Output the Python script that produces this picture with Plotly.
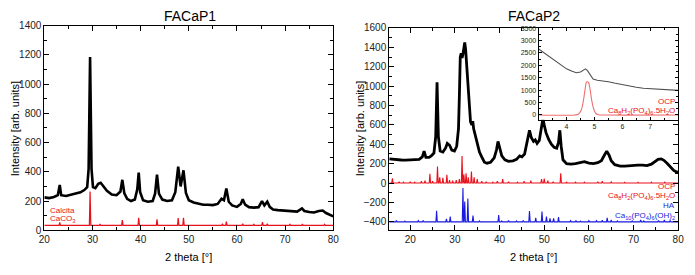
import plotly.graph_objects as go

# ---------------- data ----------------
# FACaP1 measured pattern (2 theta, intensity)
p1_theta = [20.0, 21.0, 22.0, 22.8, 23.2, 23.5, 24.5, 25.5, 26.5, 27.5, 28.3, 28.9, 29.2, 29.5, 29.8, 30.1,
            30.6, 31.2, 31.7, 32.3, 33.0, 34.0, 35.0, 35.8, 36.2, 36.6, 37.2, 38.0, 38.8, 39.3, 39.6, 39.9,
            40.5, 41.5, 42.5, 43.0, 43.4, 43.8, 44.5, 45.5, 46.5, 47.2, 47.8, 48.3, 48.9, 49.4, 50.0, 51.0,
            52.0, 53.0, 54.0, 55.0, 56.0, 56.8, 57.3, 57.8, 58.3, 59.0, 60.0, 60.8, 61.2, 61.7, 62.5, 63.5,
            64.5, 65.2, 65.7, 66.3, 66.8, 67.5, 68.5, 69.5, 70.5, 71.5, 72.5, 73.5, 74.0, 75.0, 76.0, 77.0,
            77.8, 78.5, 79.3, 80.0]
p1_int = [225, 220, 228, 240, 310, 240, 235, 245, 250, 260, 275, 295, 420, 1185, 420, 295,
          288, 318, 325, 300, 270, 245, 240, 265, 345, 255, 215, 200, 210, 280, 395, 260,
          205, 195, 200, 250, 380, 250, 210, 200, 205, 260, 435, 300, 410, 255, 205, 190,
          180, 175, 175, 172, 180, 215, 205, 285, 195, 170, 160, 180, 212, 175, 158, 155,
          158, 200, 170, 195, 160, 142, 138, 135, 132, 130, 128, 150, 132, 125, 122, 132,
          135, 118, 105, 95]

# Calcite CaCO3 reference peaks (position, height above baseline)
calcite_pos = [23.2, 29.5, 31.6, 36.2, 39.6, 43.4, 47.8, 48.9, 57.0, 57.8, 61.2, 63.5, 65.3, 66.3,
               69.8, 71.0, 73.6, 77.0, 78.2]
calcite_h = [20, 232, 9, 37, 52, 42, 50, 52, 12, 27, 12, 7, 22, 12, 5, 7, 9, 5, 7]
calcite_base = 33

# FACaP2 measured pattern
p2_theta = [15.3, 16.0, 17.0, 18.0, 19.0, 20.0, 21.0, 22.0, 22.7, 23.1, 23.5, 24.2, 24.7, 25.3, 25.7,
            26.0, 26.3, 26.7, 27.3, 27.9, 28.3, 28.8, 29.3, 29.9, 30.4, 30.8, 31.0, 31.2, 31.4, 31.6,
            31.8, 32.0, 32.2, 32.4, 32.6, 32.9, 33.2, 33.5, 33.8, 34.0, 34.2, 34.6, 35.0, 35.5, 36.0,
            36.6, 37.2, 38.0, 38.8, 39.3, 39.65, 40.0, 40.5, 41.2, 42.0, 43.0, 43.8, 44.5, 45.0, 45.6,
            46.2, 46.7, 47.1, 47.6, 48.0, 48.4, 48.9, 49.3, 49.7, 50.0, 50.4, 51.0, 51.6, 52.2, 52.8,
            53.2, 53.5, 53.8, 54.2, 55.0, 56.0, 57.0, 58.0, 59.0, 60.0, 61.0, 62.0, 62.8, 63.5, 64.0,
            64.5, 65.0, 65.8, 67.0, 68.0, 69.0, 70.0, 71.0, 72.0, 73.0, 74.0, 74.8, 75.5, 76.2, 76.8,
            77.5, 78.3, 79.0, 79.6, 80.0]
p2_int = [250, 245, 240, 238, 236, 240, 238, 245, 270, 330, 265, 265, 280, 310, 480,
          1040, 480, 330, 320, 360, 410, 390, 340, 330, 380, 560, 900, 1300, 1340, 1290,
          1330, 1400, 1450, 1380, 1250, 1000, 780, 630, 600, 640, 560, 480, 400, 320, 270,
          215, 205, 215, 260, 340, 430, 360, 280, 240, 225, 230, 245, 280, 270, 300,
          430, 545, 470, 430, 445, 410, 440, 560, 665, 600, 520, 450, 400, 370, 360,
          420, 545, 380, 240, 200, 195, 200, 210, 220, 205, 200, 210, 230, 290, 330,
          290, 230, 190, 175, 175, 180, 180, 185, 185, 180, 195, 225, 245, 250, 235,
          205, 160, 130, 115, 112]

# OCP Ca8H2(PO4)6.5H2O reference peaks
ocp_pos = [16.0, 17.5, 18.5, 20.0, 21.0, 22.5, 23.3, 24.4, 25.0, 26.1, 26.6, 27.3, 28.2, 28.8, 29.5,
           30.3, 31.0, 31.6, 32.0, 32.5, 33.0, 33.7, 34.3, 35.0, 36.0, 37.0, 38.5, 39.5, 40.7, 42.0,
           44.0, 45.5, 47.0, 49.4, 50.0, 50.8, 52.0, 53.7, 55.0, 57.0, 59.0, 62.0, 63.0, 65.0, 68.0,
           71.0, 74.0, 77.0]
ocp_h = [50, 15, 10, 15, 10, 20, 25, 95, 20, 170, 60, 55, 85, 30, 25,
         30, 40, 280, 90, 100, 60, 120, 60, 40, 20, 15, 10, 20, 40, 15,
         10, 20, 25, 40, 45, 25, 15, 100, 10, 10, 10, 15, 20, 12, 8,
         8, 10, 10]
ocp_base = 0

# HA Ca10(PO4)6(OH)2 reference peaks
ha_pos = [16.9, 18.8, 21.8, 22.9, 25.9, 28.1, 28.95, 31.8, 32.2, 32.9, 34.05, 35.5, 39.8, 40.5,
          42.0, 43.8, 45.3, 46.7, 48.1, 49.5, 50.5, 51.3, 52.1, 53.2, 55.9, 57.1, 58.1, 60.0,
          61.7, 63.0, 64.1, 65.0, 66.4, 69.7, 71.6, 72.3, 75.6, 76.9, 78.2]
ha_h = [15, 8, 12, 15, 115, 30, 55, 350, 210, 240, 65, 10, 70, 10,
        15, 10, 15, 112, 40, 105, 55, 35, 35, 50, 12, 15, 8, 12,
        12, 18, 40, 20, 10, 10, 20, 10, 15, 20, 15]
ha_base = -400

# Inset (FACaP2 low-angle region)
inset_x = [3.0, 3.2, 3.4, 3.6, 3.8, 4.0, 4.2, 4.35, 4.5, 4.6, 4.68, 4.75, 4.85, 4.95, 5.1, 5.3,
           5.5, 5.75, 6.0, 6.25, 6.5, 6.75, 7.0, 7.25, 7.5, 7.75, 8.0]
inset_int = [2660, 2500, 2330, 2150, 1990, 1860, 1760, 1700, 1730, 1820, 1860, 1790, 1600, 1450,
             1400, 1380, 1340, 1280, 1220, 1170, 1120, 1080, 1060, 1040, 1020, 1000, 990]
inset_ocp_x = [3.0, 4.3, 4.42, 4.52, 4.6, 4.66, 4.72, 4.78, 4.84, 4.9, 4.97, 5.05, 5.15, 5.3, 8.0]
inset_ocp_int = [0, 0, 30, 180, 550, 1000, 1330, 1320, 1050, 600, 250, 60, 10, 0, 0]

# ---------------- helpers ----------------
def stick_pattern(pos, h, base, lo, hi, w=0.15):
    xs, ys = [lo], [base]
    for p, v in zip(pos, h):
        xs += [p - w, p, p + w]
        ys += [base, base + v, base]
    xs.append(hi)
    ys.append(base)
    return xs, ys


BLACK = "#000000"
RED = "#e8101a"
BLUE = "#1a1ae0"
FONT = "Liberation Sans, Arial, sans-serif"

fig = go.Figure()

# left panel
fig.add_trace(go.Scatter(x=p1_theta, y=p1_int, mode="lines",
                         line=dict(color=BLACK, width=2.6), xaxis="x", yaxis="y", showlegend=False))
cx, cy = stick_pattern(calcite_pos, calcite_h, calcite_base, 20, 80)
fig.add_trace(go.Scatter(x=cx, y=cy, mode="lines", line=dict(color=RED, width=1.2),
                         xaxis="x", yaxis="y", showlegend=False))

# right panel
fig.add_trace(go.Scatter(x=p2_theta, y=p2_int, mode="lines",
                         line=dict(color=BLACK, width=2.8), xaxis="x2", yaxis="y2", showlegend=False))
ox, oy = stick_pattern(ocp_pos, ocp_h, ocp_base, 15.3, 80)
fig.add_trace(go.Scatter(x=ox, y=oy, mode="lines", line=dict(color=RED, width=1.1),
                         xaxis="x2", yaxis="y2", showlegend=False))
hx, hy = stick_pattern(ha_pos, ha_h, ha_base, 15.3, 80)
fig.add_trace(go.Scatter(x=hx, y=hy, mode="lines", line=dict(color=BLUE, width=1.1),
                         xaxis="x2", yaxis="y2", showlegend=False))

# inset
fig.add_trace(go.Scatter(x=inset_x, y=inset_int, mode="lines",
                         line=dict(color="#505050", width=1.1), xaxis="x3", yaxis="y3", showlegend=False))
fig.add_trace(go.Scatter(x=inset_ocp_x, y=inset_ocp_int, mode="lines", line_shape="spline",
                         line=dict(color="#f07070", width=1.1), xaxis="x3", yaxis="y3", showlegend=False))


def ax(domain, rng, dtick, minor, anchor, size=10, ticklen=5, mlen=3, tickvals=None):
    d = dict(domain=domain, range=rng, anchor=anchor, showline=True, linecolor="black", linewidth=1,
             mirror="ticks", ticks="inside", ticklen=ticklen, tickcolor="black", tickwidth=1,
             showgrid=False, zeroline=False,
             tickfont=dict(family=FONT, size=size, color="#222"),
             minor=dict(ticks="inside", ticklen=mlen, tickcolor="black", dtick=minor, showgrid=False))
    if tickvals is not None:
        d["tickmode"] = "array"
        d["tickvals"] = tickvals
    else:
        d["dtick"] = dtick
        d["tick0"] = 0
    return d


fig.update_layout(
    width=695, height=275,
    margin=dict(l=0, r=0, t=0, b=0),
    paper_bgcolor="white", plot_bgcolor="white",
    xaxis=ax([0.05612, 0.47914], [20, 80], 10, 5, "y"),
    yaxis=ax([0.14727, 0.92545], [0, 1400], 200, 100, "x"),
    xaxis2=ax([0.56115, 0.98417], [15.3, 80], 10, 5, "y2"),
    yaxis2=ax([0.14800, 0.91636], [-485, 1600], 200, 100, "x2"),
    xaxis3=ax([0.77986, 0.98417], [3, 8], 1, 0.5, "y3", size=7, ticklen=3, mlen=2,
              tickvals=[4, 5, 6, 7]),
    yaxis3=ax([0.56727, 0.91636], [-195, 3507], 500, 250, "x3", size=7, ticklen=3, mlen=2),
)

ann = []


def text(x, y, s, size, color="black", xanchor="center", angle=0):
    ann.append(dict(x=x / 695, y=1 - y / 275, xref="paper", yref="paper", text=s, showarrow=False,
                    xanchor=xanchor, yanchor="middle", textangle=angle,
                    font=dict(family=FONT, size=size, color=color)))


text(187, 10, "FACaP1", 14)
text(537, 10, "FACaP2", 14)
text(186, 262, "2 theta [°]", 11)
text(537, 262, "2 theta [°]", 11)
text(10, 128, "Intensity [arb. units]", 11, angle=-90)
text(361, 128, "Intensity [arb. units]", 11, angle=-90)

text(43, 214, "Calcita", 8, RED, "left")
text(43, 223, "CaCO<sub>3</sub>", 8, RED, "left")

text(683, 189, "OCP", 8, RED, "right")
text(683, 199, "Ca<sub>8</sub>H<sub>2</sub>(PO<sub>4</sub>)<sub>6</sub>.5H<sub>2</sub>O", 8, RED, "right")
text(683, 209, "HA", 8, BLUE, "right")
text(683, 220, "Ca<sub>10</sub>(PO<sub>4</sub>)<sub>6</sub>(OH)<sub>2</sub>", 8, BLUE, "right")

text(683, 100, "OCP", 8, RED, "right")
text(683, 110, "Ca<sub>8</sub>H<sub>2</sub>(PO<sub>4</sub>)<sub>6</sub>.5H<sub>2</sub>O", 8, RED, "right")

fig.update_layout(annotations=ann)

fig.write_html("out.html", config={"displayModeBar": False},
               post_script="document.body.style.margin='0px';")
